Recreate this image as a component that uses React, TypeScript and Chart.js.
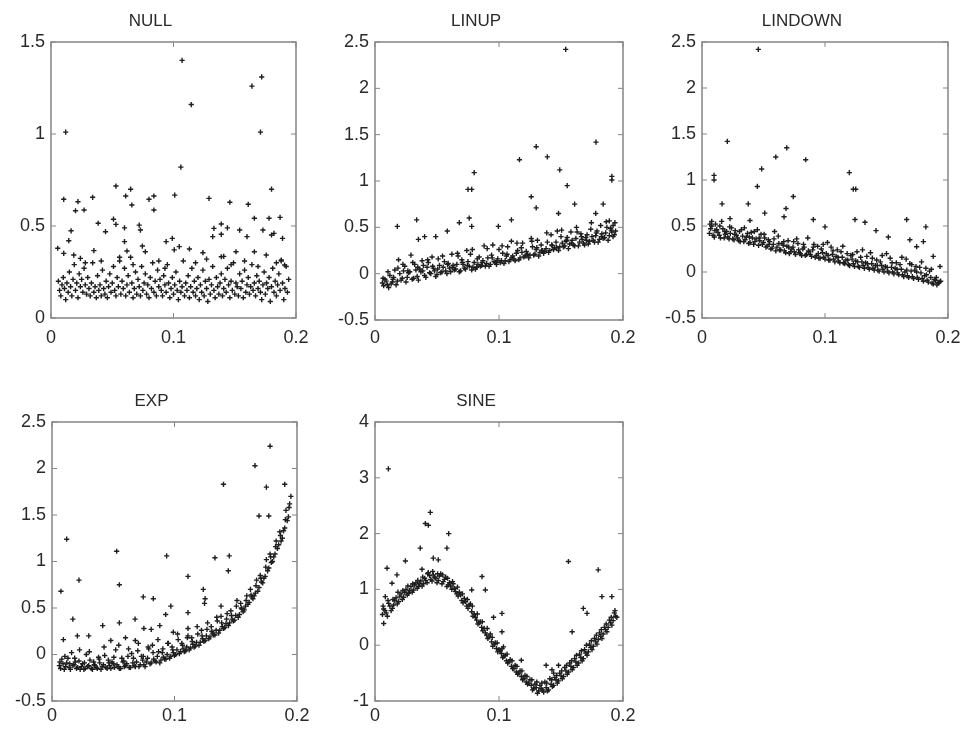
import React, { useEffect, useRef } from "react";
import { Chart, registerables } from "chart.js";

Chart.register(...registerables);

// ---------------- DATA ----------------
const PANEL_TITLES = ["NULL", "LINUP", "LINDOWN", "EXP", "SINE"];
const X_TICKS = [0, 0.1, 0.2];
const Y_TICKS_NULL = [0, 0.5, 1, 1.5];
const Y_TICKS_LIN = [-0.5, 0, 0.5, 1, 1.5, 2, 2.5];
const Y_TICKS_SINE = [-1, 0, 1, 2, 3, 4];

const NULL_POINTS: number[][] = [
  [0.012,1.01],[0.107,1.40],[0.1145,1.16],[0.106,0.82],[0.164,1.26],[0.172,1.31],[0.171,1.01],
  [0.0104,0.645],[0.022,0.632],[0.020,0.583],[0.027,0.587],[0.034,0.656],[0.053,0.717],[0.065,0.70],[0.061,0.663],[0.066,0.614],[0.080,0.645],[0.084,0.663],[0.084,0.587],[0.101,0.668],[0.129,0.65],[0.146,0.629],[0.161,0.618],[0.180,0.70],
  [0.0385,0.515],[0.051,0.537],[0.053,0.509],[0.060,0.49],[0.072,0.505],[0.073,0.478],[0.0445,0.469],[0.0164,0.474],[0.0145,0.42],[0.0055,0.379],[0.060,0.415],[0.062,0.364],[0.0746,0.391],[0.077,0.36],[0.094,0.415],[0.099,0.433],[0.1006,0.37],[0.1047,0.388],[0.113,0.375],[0.133,0.487],[0.139,0.511],[0.144,0.49],[0.132,0.442],[0.139,0.455],[0.154,0.478],[0.160,0.442],[0.166,0.542],[0.178,0.542],[0.187,0.547],[0.173,0.478],[0.180,0.451],[0.182,0.46],[0.189,0.433],[0.035,0.366],[0.0104,0.351],[0.0186,0.342],[0.024,0.324],[0.139,0.333],[0.141,0.335],[0.124,0.355],[0.151,0.36],[0.166,0.36],[0.1757,0.342],[0.188,0.315],[0.1907,0.288],
  [0.028,0.30],[0.041,0.31],[0.056,0.33],[0.067,0.29],[0.088,0.31],[0.093,0.27],[0.118,0.30],[0.127,0.32],[0.147,0.29],[0.158,0.31],[0.169,0.28],[0.184,0.30],
  [0.006,0.20],[0.007,0.15],[0.008,0.12],[0.009,0.18],[0.010,0.22],[0.011,0.16],[0.012,0.10],[0.013,0.19],[0.014,0.14],[0.015,0.25],[0.016,0.17],[0.017,0.12],[0.018,0.21],[0.019,0.29],[0.020,0.15],[0.021,0.19],[0.022,0.11],[0.023,0.24],[0.024,0.17],[0.025,0.21],[0.026,0.14],[0.027,0.27],[0.028,0.18],[0.029,0.13],[0.030,0.22],[0.031,0.16],[0.032,0.12],[0.033,0.19],[0.034,0.30],[0.035,0.14],[0.036,0.17],[0.037,0.11],[0.038,0.23],[0.039,0.15],[0.040,0.18],[0.041,0.12],[0.042,0.26],[0.043,0.16],[0.044,0.13],[0.045,0.20],[0.046,0.11],[0.047,0.17],[0.048,0.24],[0.049,0.14],[0.050,0.19],[0.051,0.28],[0.052,0.15],[0.053,0.12],[0.054,0.22],[0.055,0.17],[0.056,0.31],[0.057,0.13],[0.058,0.20],[0.059,0.16],[0.060,0.27],[0.061,0.12],[0.062,0.18],[0.063,0.23],[0.064,0.14],[0.065,0.33],[0.066,0.19],[0.067,0.11],[0.068,0.16],[0.069,0.25],[0.070,0.13],[0.071,0.21],[0.072,0.17],[0.073,0.12],[0.074,0.28],[0.075,0.15],[0.076,0.19],[0.077,0.24],[0.078,0.13],[0.079,0.18],[0.080,0.11],[0.081,0.22],[0.082,0.16],[0.083,0.30],[0.084,0.14],[0.085,0.20],[0.086,0.12],[0.087,0.26],[0.088,0.17],[0.089,0.21],[0.090,0.15],[0.091,0.12],[0.092,0.23],[0.093,0.18],[0.094,0.14],[0.095,0.29],[0.096,0.19],[0.097,0.11],[0.098,0.16],[0.099,0.22],[0.100,0.13],[0.101,0.18],[0.102,0.25],[0.103,0.15],[0.104,0.10],[0.105,0.20],[0.106,0.14],[0.107,0.17],[0.108,0.31],[0.109,0.12],[0.110,0.19],[0.111,0.15],[0.112,0.23],[0.113,0.11],[0.114,0.17],[0.115,0.27],[0.116,0.14],[0.117,0.20],[0.118,0.12],[0.119,0.16],[0.120,0.22],[0.121,0.10],[0.122,0.18],[0.123,0.14],[0.124,0.26],[0.125,0.12],[0.126,0.20],[0.127,0.16],[0.128,0.09],[0.129,0.21],[0.130,0.13],[0.131,0.18],[0.132,0.28],[0.133,0.15],[0.134,0.11],[0.135,0.22],[0.136,0.17],[0.137,0.13],[0.138,0.19],[0.139,0.24],[0.140,0.12],[0.141,0.16],[0.142,0.21],[0.143,0.14],[0.144,0.27],[0.145,0.18],[0.146,0.11],[0.147,0.20],[0.148,0.15],[0.149,0.30],[0.150,0.13],[0.151,0.19],[0.152,0.17],[0.153,0.12],[0.154,0.24],[0.155,0.16],[0.156,0.20],[0.157,0.11],[0.158,0.26],[0.159,0.14],[0.160,0.18],[0.161,0.22],[0.162,0.13],[0.163,0.17],[0.164,0.29],[0.165,0.15],[0.166,0.19],[0.167,0.12],[0.168,0.23],[0.169,0.16],[0.170,0.20],[0.171,0.14],[0.172,0.10],[0.173,0.18],[0.174,0.25],[0.175,0.13],[0.176,0.19],[0.177,0.16],[0.178,0.22],[0.179,0.09],[0.180,0.17],[0.181,0.27],[0.182,0.14],[0.183,0.20],[0.184,0.12],[0.185,0.18],[0.186,0.24],[0.187,0.15],[0.188,0.31],[0.189,0.19],[0.190,0.10],[0.191,0.16],[0.192,0.28],[0.193,0.14],[0.194,0.21],
];

const LINUP_POINTS: number[][] = [
  [0.1538,2.42],[0.130,1.37],[0.139,1.26],[0.1165,1.23],[0.1782,1.42],[0.080,1.09],[0.075,0.91],[0.078,0.91],[0.149,1.12],[0.155,0.95],[0.191,1.01],[0.191,1.05],[0.126,0.83],[0.130,0.71],[0.161,0.75],[0.184,0.75],
  [0.0336,0.58],[0.0180,0.51],[0.076,0.60],[0.078,0.51],[0.068,0.55],[0.0583,0.46],[0.049,0.40],[0.040,0.40],[0.035,0.37],[0.0995,0.51],[0.110,0.58],[0.148,0.65],[0.178,0.65],[0.189,0.57],[0.192,0.52],
  [0.006,-0.10],[0.008,-0.06],[0.010,-0.12],[0.012,-0.02],[0.014,-0.09],[0.016,0.04],[0.018,-0.08],[0.020,0.00],[0.022,-0.05],[0.024,0.08],[0.026,-0.04],[0.028,0.02],[0.030,-0.06],[0.032,0.10],[0.034,-0.03],[0.036,0.05],[0.038,0.14],[0.040,-0.02],[0.042,0.07],[0.044,0.01],[0.046,0.18],[0.048,0.03],[0.050,-0.01],[0.052,0.09],[0.054,0.02],[0.056,0.13],[0.058,0.00],[0.060,0.06],[0.062,0.21],[0.064,0.04],[0.066,0.10],[0.068,0.02],[0.070,0.15],[0.072,0.06],[0.074,0.25],[0.076,0.08],[0.078,0.04],[0.080,0.12],[0.082,0.07],[0.084,0.18],[0.086,0.09],[0.088,0.30],[0.090,0.11],[0.092,0.08],[0.094,0.20],[0.096,0.13],[0.098,0.10],[0.100,0.26],[0.102,0.14],[0.104,0.11],[0.106,0.19],[0.108,0.13],[0.110,0.35],[0.112,0.16],[0.114,0.22],[0.116,0.15],[0.118,0.28],[0.120,0.18],[0.122,0.24],[0.124,0.17],[0.126,0.38],[0.128,0.20],[0.130,0.26],[0.132,0.19],[0.134,0.31],[0.136,0.22],[0.138,0.27],[0.140,0.23],[0.142,0.42],[0.144,0.26],[0.146,0.34],[0.148,0.25],[0.150,0.40],[0.152,0.29],[0.154,0.35],[0.156,0.27],[0.158,0.45],[0.160,0.31],[0.162,0.38],[0.164,0.30],[0.166,0.43],[0.168,0.33],[0.170,0.39],[0.172,0.32],[0.174,0.48],[0.176,0.36],[0.178,0.41],[0.180,0.34],[0.182,0.52],[0.184,0.38],[0.186,0.44],[0.188,0.36],[0.190,0.49],[0.192,0.40],[0.194,0.46],
  [0.007,-0.13],[0.009,-0.08],[0.011,-0.15],[0.013,-0.11],[0.015,-0.04],[0.017,-0.12],[0.019,0.15],[0.021,-0.07],[0.023,0.03],[0.025,-0.09],[0.027,0.01],[0.029,0.20],[0.031,-0.05],[0.033,0.04],[0.035,-0.07],[0.037,0.02],[0.039,0.09],[0.041,-0.04],[0.043,0.12],[0.045,0.00],[0.047,0.06],[0.049,-0.03],[0.051,0.16],[0.053,0.01],[0.055,0.07],[0.057,0.03],[0.059,0.11],[0.061,0.02],[0.063,0.09],[0.065,0.05],[0.067,0.19],[0.069,0.03],[0.071,0.10],[0.073,0.05],[0.075,0.13],[0.077,0.21],[0.079,0.07],[0.081,0.05],[0.083,0.10],[0.085,0.08],[0.087,0.14],[0.089,0.08],[0.091,0.17],[0.093,0.10],[0.095,0.31],[0.097,0.12],[0.099,0.16],[0.101,0.12],[0.103,0.22],[0.105,0.14],[0.107,0.29],[0.109,0.15],[0.111,0.19],[0.113,0.14],[0.115,0.25],[0.117,0.17],[0.119,0.33],[0.121,0.19],[0.123,0.21],[0.125,0.20],[0.127,0.29],[0.129,0.21],[0.131,0.36],[0.133,0.23],[0.135,0.25],[0.137,0.24],[0.139,0.34],[0.141,0.25],[0.143,0.30],[0.145,0.28],[0.147,0.46],[0.149,0.29],[0.151,0.33],[0.153,0.30],[0.155,0.39],[0.157,0.32],[0.159,0.36],[0.161,0.30],[0.163,0.45],[0.165,0.34],[0.167,0.37],[0.169,0.31],[0.171,0.42],[0.173,0.35],[0.175,0.40],[0.177,0.34],[0.179,0.46],[0.181,0.37],[0.183,0.43],[0.185,0.39],[0.187,0.50],[0.189,0.41],[0.191,0.45],[0.193,0.42],
  [0.0065,-0.05],[0.0105,0.02],[0.0145,-0.06],[0.0185,0.06],[0.0225,0.10],[0.0265,0.03],[0.0305,0.12],[0.0345,0.07],[0.0385,0.03],[0.0425,0.15],[0.0465,0.08],[0.0505,0.05],[0.0545,0.19],[0.0585,0.10],[0.0625,0.07],[0.0665,0.22],[0.0705,0.12],[0.0745,0.09],[0.0785,0.26],[0.0825,0.16],[0.0865,0.12],[0.0905,0.27],[0.0945,0.17],[0.0985,0.14],[0.1025,0.30],[0.1065,0.21],[0.1105,0.17],[0.1145,0.33],[0.1185,0.23],[0.1225,0.20],[0.1265,0.35],[0.1305,0.28],[0.1345,0.25],[0.1385,0.44],[0.1425,0.31],[0.1465,0.28],[0.1505,0.47],[0.1545,0.36],[0.1585,0.33],[0.1625,0.50],[0.1665,0.40],[0.1705,0.36],[0.1745,0.55],[0.1785,0.44],[0.1825,0.40],[0.1865,0.56],[0.1905,0.47],[0.1935,0.55],
];

const LINDOWN_POINTS: number[][] = [
  [0.0458,2.42],[0.0206,1.42],[0.0689,1.35],[0.060,1.25],[0.0843,1.22],[0.0485,1.12],[0.045,0.93],[0.0098,1.00],[0.0098,1.05],[0.1198,1.08],[0.123,0.90],[0.125,0.90],[0.0742,0.82],[0.0163,0.74],[0.0376,0.74],[0.0683,0.69],[0.0667,0.60],
  [0.0905,0.57],[0.1244,0.57],[0.1325,0.54],[0.1664,0.57],[0.182,0.49],[0.1415,0.45],[0.1515,0.38],[0.0228,0.58],[0.039,0.56],[0.051,0.64],[0.0079,0.55],[0.100,0.49],[0.169,0.35],[0.1745,0.275],[0.188,0.17],[0.180,0.33],
  [0.006,0.42],[0.008,0.50],[0.010,0.38],[0.012,0.46],[0.014,0.40],[0.016,0.55],[0.018,0.37],[0.020,0.44],[0.022,0.36],[0.024,0.48],[0.026,0.35],[0.028,0.40],[0.030,0.34],[0.032,0.46],[0.034,0.33],[0.036,0.38],[0.038,0.31],[0.040,0.43],[0.042,0.30],[0.044,0.36],[0.046,0.29],[0.048,0.41],[0.050,0.32],[0.052,0.27],[0.054,0.35],[0.056,0.25],[0.058,0.30],[0.060,0.23],[0.062,0.39],[0.064,0.24],[0.066,0.29],[0.068,0.21],[0.070,0.34],[0.072,0.22],[0.074,0.27],[0.076,0.19],[0.078,0.31],[0.080,0.20],[0.082,0.25],[0.084,0.18],[0.086,0.37],[0.088,0.19],[0.090,0.24],[0.092,0.16],[0.094,0.28],[0.096,0.15],[0.098,0.21],[0.100,0.14],[0.102,0.32],[0.104,0.13],[0.106,0.19],[0.108,0.11],[0.110,0.24],[0.112,0.10],[0.114,0.16],[0.116,0.09],[0.118,0.20],[0.120,0.07],[0.122,0.14],[0.124,0.06],[0.126,0.22],[0.128,0.05],[0.130,0.11],[0.132,0.04],[0.134,0.17],[0.136,0.03],[0.138,0.09],[0.140,0.02],[0.142,0.13],[0.144,0.01],[0.146,0.07],[0.148,0.00],[0.150,0.20],[0.152,-0.01],[0.154,0.05],[0.156,-0.02],[0.158,0.10],[0.160,-0.03],[0.162,0.03],[0.164,-0.05],[0.166,0.14],[0.168,-0.06],[0.170,0.01],[0.172,-0.07],[0.174,0.06],[0.176,-0.08],[0.178,-0.01],[0.180,-0.10],[0.182,0.04],[0.184,-0.11],[0.186,-0.06],[0.188,-0.13],[0.190,-0.09],[0.192,-0.12],[0.194,-0.10],
  [0.007,0.47],[0.009,0.40],[0.011,0.52],[0.013,0.43],[0.015,0.37],[0.017,0.47],[0.019,0.41],[0.021,0.38],[0.023,0.42],[0.025,0.36],[0.027,0.45],[0.029,0.37],[0.031,0.33],[0.033,0.39],[0.035,0.35],[0.037,0.42],[0.039,0.32],[0.041,0.37],[0.043,0.33],[0.045,0.46],[0.047,0.34],[0.049,0.30],[0.051,0.37],[0.053,0.28],[0.055,0.33],[0.057,0.26],[0.059,0.44],[0.061,0.27],[0.063,0.24],[0.065,0.31],[0.067,0.23],[0.069,0.28],[0.071,0.20],[0.073,0.25],[0.075,0.22],[0.077,0.36],[0.079,0.21],[0.081,0.18],[0.083,0.27],[0.085,0.19],[0.087,0.22],[0.089,0.17],[0.091,0.30],[0.093,0.18],[0.095,0.15],[0.097,0.25],[0.099,0.16],[0.101,0.20],[0.103,0.13],[0.105,0.27],[0.107,0.14],[0.109,0.17],[0.111,0.12],[0.113,0.22],[0.115,0.10],[0.117,0.13],[0.119,0.08],[0.121,0.18],[0.123,0.09],[0.125,0.12],[0.127,0.06],[0.129,0.16],[0.131,0.07],[0.133,0.10],[0.135,0.05],[0.137,0.21],[0.139,0.04],[0.141,0.07],[0.143,0.02],[0.145,0.11],[0.147,0.03],[0.149,0.06],[0.151,0.01],[0.153,0.15],[0.155,0.00],[0.157,0.04],[0.159,-0.01],[0.161,0.08],[0.163,-0.03],[0.165,0.00],[0.167,-0.04],[0.169,0.09],[0.171,-0.05],[0.173,0.02],[0.175,-0.06],[0.177,0.05],[0.179,-0.07],[0.181,-0.04],[0.183,-0.09],[0.185,0.01],[0.187,-0.12],[0.189,-0.08],[0.191,-0.14],[0.193,-0.11],
  [0.0065,0.52],[0.0105,0.45],[0.0145,0.50],[0.0185,0.44],[0.0225,0.49],[0.0265,0.41],[0.0305,0.44],[0.0345,0.48],[0.0385,0.38],[0.0425,0.44],[0.0465,0.37],[0.0505,0.41],[0.0545,0.30],[0.0585,0.36],[0.0625,0.31],[0.0665,0.33],[0.0705,0.27],[0.0745,0.33],[0.0785,0.24],[0.0825,0.30],[0.0865,0.23],[0.0905,0.27],[0.0945,0.20],[0.0985,0.30],[0.1025,0.18],[0.1065,0.23],[0.1105,0.16],[0.1145,0.28],[0.1185,0.13],[0.1225,0.19],[0.1265,0.11],[0.1305,0.24],[0.1345,0.09],[0.1385,0.15],[0.1425,0.07],[0.1465,0.18],[0.1505,0.05],[0.1545,0.10],[0.1585,0.03],[0.1625,0.16],[0.1665,0.02],[0.1705,0.08],[0.1745,0.00],[0.1785,0.11],[0.1825,-0.03],[0.1865,0.03],[0.1905,-0.06],[0.1935,0.06],
];

const EXP_POINTS: number[][] = [
  [0.178,2.24],[0.1657,2.03],[0.140,1.83],[0.175,1.80],[0.169,1.49],[0.177,1.49],[0.190,1.83],[0.0120,1.24],[0.0528,1.11],[0.0936,1.06],[0.133,1.04],[0.1447,1.06],[0.1439,0.90],[0.111,0.84],[0.022,0.80],[0.055,0.75],[0.0073,0.68],[0.1235,0.70],
  [0.0745,0.62],[0.0827,0.60],[0.097,0.52],[0.0928,0.43],[0.111,0.45],[0.125,0.60],[0.1245,0.55],[0.138,0.52],[0.017,0.38],[0.0414,0.31],[0.055,0.34],[0.0678,0.38],[0.075,0.28],[0.081,0.27],[0.088,0.31],[0.099,0.24],[0.111,0.28],[0.0207,0.20],[0.030,0.20],[0.0093,0.16],[0.048,0.15],[0.060,0.18],[0.068,0.15],
  [0.006,-0.12],[0.008,-0.05],[0.010,-0.16],[0.012,-0.09],[0.014,-0.14],[0.016,0.02],[0.018,-0.11],[0.020,-0.15],[0.022,-0.07],[0.024,-0.13],[0.026,-0.16],[0.028,0.00],[0.030,-0.12],[0.032,-0.15],[0.034,-0.08],[0.036,-0.14],[0.038,-0.03],[0.040,-0.16],[0.042,-0.11],[0.044,-0.14],[0.046,-0.06],[0.048,-0.15],[0.050,-0.10],[0.052,0.05],[0.054,-0.13],[0.056,-0.15],[0.058,-0.08],[0.060,-0.12],[0.062,-0.02],[0.064,-0.14],[0.066,-0.09],[0.068,-0.13],[0.070,0.04],[0.072,-0.11],[0.074,-0.06],[0.076,-0.13],[0.078,-0.04],[0.080,-0.10],[0.082,0.10],[0.084,-0.07],[0.086,-0.02],[0.088,-0.09],[0.090,0.02],[0.092,-0.05],[0.094,0.00],[0.096,-0.04],[0.098,0.08],[0.100,-0.01],[0.102,0.05],[0.104,0.01],[0.106,0.12],[0.108,0.03],[0.110,0.08],[0.112,0.05],[0.114,0.18],[0.116,0.08],[0.118,0.13],[0.120,0.10],[0.122,0.26],[0.124,0.14],[0.126,0.20],[0.128,0.17],[0.130,0.30],[0.132,0.21],[0.134,0.26],[0.136,0.23],[0.138,0.41],[0.140,0.28],[0.142,0.33],[0.144,0.31],[0.146,0.47],[0.148,0.36],[0.150,0.42],[0.152,0.40],[0.154,0.55],[0.156,0.46],[0.158,0.52],[0.160,0.54],[0.162,0.70],[0.164,0.60],[0.166,0.66],[0.168,0.68],[0.170,0.85],[0.172,0.77],[0.174,0.84],[0.176,0.90],[0.178,1.08],[0.180,1.00],[0.182,1.08],[0.184,1.14],[0.186,1.32],[0.188,1.25],[0.190,1.36],[0.192,1.44],[0.194,1.62],
  [0.007,-0.15],[0.009,-0.10],[0.011,-0.13],[0.013,-0.04],[0.015,-0.16],[0.017,-0.12],[0.019,-0.08],[0.021,-0.14],[0.023,-0.16],[0.025,-0.10],[0.027,-0.15],[0.029,-0.13],[0.031,-0.06],[0.033,-0.16],[0.035,-0.12],[0.037,-0.15],[0.039,-0.09],[0.041,-0.13],[0.043,-0.01],[0.045,-0.15],[0.047,-0.12],[0.049,-0.08],[0.051,-0.14],[0.053,-0.11],[0.055,-0.15],[0.057,-0.04],[0.059,-0.13],[0.061,-0.10],[0.063,-0.14],[0.065,0.01],[0.067,-0.12],[0.069,-0.08],[0.071,-0.13],[0.073,-0.02],[0.075,-0.11],[0.077,-0.08],[0.079,0.06],[0.081,-0.09],[0.083,-0.05],[0.085,-0.08],[0.087,0.03],[0.089,-0.06],[0.091,-0.03],[0.093,-0.05],[0.095,0.12],[0.097,-0.02],[0.099,0.02],[0.101,0.00],[0.103,0.16],[0.105,0.03],[0.107,0.06],[0.109,0.04],[0.111,0.20],[0.113,0.07],[0.115,0.11],[0.117,0.09],[0.119,0.22],[0.121,0.13],[0.123,0.17],[0.125,0.15],[0.127,0.34],[0.129,0.19],[0.131,0.23],[0.133,0.21],[0.135,0.36],[0.137,0.26],[0.139,0.30],[0.141,0.29],[0.143,0.44],[0.145,0.34],[0.147,0.38],[0.149,0.37],[0.151,0.58],[0.153,0.43],[0.155,0.49],[0.157,0.48],[0.159,0.63],[0.161,0.56],[0.163,0.62],[0.165,0.63],[0.167,0.80],[0.169,0.72],[0.171,0.78],[0.173,0.82],[0.175,1.02],[0.177,0.93],[0.179,0.99],[0.181,1.05],[0.183,1.22],[0.185,1.18],[0.187,1.22],[0.189,1.33],[0.191,1.55],[0.193,1.48],[0.195,1.70],
  [0.0065,-0.08],[0.0105,-0.02],[0.0145,-0.10],[0.0185,-0.04],[0.0225,0.05],[0.0265,-0.09],[0.0305,0.03],[0.0345,-0.11],[0.0385,-0.05],[0.0425,0.08],[0.0465,-0.09],[0.0505,-0.03],[0.0545,0.10],[0.0585,-0.07],[0.0625,0.06],[0.0665,-0.04],[0.0705,0.12],[0.0745,-0.02],[0.0785,0.08],[0.0825,0.02],[0.0865,0.16],[0.0905,0.06],[0.0945,0.12],[0.0985,0.05],[0.1025,0.22],[0.1065,0.10],[0.1105,0.18],[0.1145,0.14],[0.1185,0.30],[0.1225,0.20],[0.1265,0.27],[0.1305,0.25],[0.1345,0.40],[0.1385,0.34],[0.1425,0.38],[0.1465,0.42],[0.1505,0.52],[0.1545,0.50],[0.1585,0.58],[0.1625,0.64],[0.1665,0.74],[0.1705,0.82],[0.1745,0.94],[0.1785,1.05],[0.1825,1.16],[0.1865,1.28],[0.1905,1.45],[0.1935,1.58],
];

const SINE_POINTS: number[][] = [
  [0.0108,3.16],[0.0446,2.38],[0.0406,2.18],[0.043,2.15],[0.0594,2.0],[0.058,1.74],[0.0365,1.74],[0.0245,1.51],[0.156,1.50],[0.180,1.35],[0.047,1.56],[0.051,1.53],[0.0097,1.38],[0.0177,1.26],[0.0137,1.11],[0.0379,1.36],[0.0863,1.23],[0.089,0.99],[0.078,0.99],
  [0.183,0.87],[0.191,0.87],[0.171,0.57],[0.168,0.66],[0.1024,0.57],[0.0956,0.50],[0.1024,0.24],[0.1036,-0.03],[0.118,-0.27],[0.159,0.24],[0.1427,-0.44],[0.148,-0.36],[0.0083,0.87],[0.007,0.39],[0.138,-0.36],[0.144,-0.50],
  [0.006,0.55],[0.008,0.62],[0.010,0.52],[0.012,0.70],[0.014,0.66],[0.016,0.80],[0.018,0.74],[0.020,0.88],[0.022,0.82],[0.024,0.95],[0.026,0.90],[0.028,0.98],[0.030,0.95],[0.032,1.08],[0.034,1.02],[0.036,1.10],[0.038,1.06],[0.040,1.20],[0.042,1.12],[0.044,1.25],[0.046,1.15],[0.048,1.22],[0.050,1.12],[0.052,1.24],[0.054,1.10],[0.056,1.18],[0.058,1.05],[0.060,1.12],[0.062,1.00],[0.064,1.02],[0.066,0.92],[0.068,0.95],[0.070,0.80],[0.072,0.84],[0.074,0.70],[0.076,0.72],[0.078,0.60],[0.080,0.56],[0.082,0.45],[0.084,0.40],[0.086,0.32],[0.088,0.30],[0.090,0.18],[0.092,0.15],[0.094,0.06],[0.096,0.02],[0.098,-0.06],[0.100,-0.08],[0.102,-0.15],[0.104,-0.20],[0.106,-0.28],[0.108,-0.30],[0.110,-0.38],[0.112,-0.42],[0.114,-0.48],[0.116,-0.50],[0.118,-0.56],[0.120,-0.60],[0.122,-0.66],[0.124,-0.68],[0.126,-0.72],[0.128,-0.78],[0.130,-0.76],[0.132,-0.82],[0.134,-0.78],[0.136,-0.84],[0.138,-0.76],[0.140,-0.80],[0.142,-0.70],[0.144,-0.72],[0.146,-0.62],[0.148,-0.64],[0.150,-0.55],[0.152,-0.56],[0.154,-0.46],[0.156,-0.48],[0.158,-0.38],[0.160,-0.40],[0.162,-0.30],[0.164,-0.32],[0.166,-0.22],[0.168,-0.24],[0.170,-0.14],[0.172,-0.12],[0.174,-0.04],[0.176,-0.02],[0.178,0.06],[0.180,0.10],[0.182,0.16],[0.184,0.20],[0.186,0.28],[0.188,0.32],[0.190,0.40],[0.192,0.44],[0.194,0.52],
  [0.007,0.65],[0.009,0.58],[0.011,0.75],[0.013,0.62],[0.015,0.72],[0.017,0.85],[0.019,0.78],[0.021,0.92],[0.023,0.86],[0.025,1.00],[0.027,0.93],[0.029,1.05],[0.031,0.99],[0.033,1.12],[0.035,1.05],[0.037,1.15],[0.039,1.10],[0.041,1.16],[0.043,1.30],[0.045,1.18],[0.047,1.26],[0.049,1.20],[0.051,1.16],[0.053,1.28],[0.055,1.14],[0.057,1.22],[0.059,1.08],[0.061,1.06],[0.063,1.10],[0.065,0.96],[0.067,0.88],[0.069,0.90],[0.071,0.76],[0.073,0.78],[0.075,0.66],[0.077,0.74],[0.079,0.52],[0.081,0.50],[0.083,0.38],[0.085,0.42],[0.087,0.26],[0.089,0.22],[0.091,0.12],[0.093,0.20],[0.095,-0.02],[0.097,0.04],[0.099,-0.12],[0.101,-0.10],[0.103,-0.22],[0.105,-0.18],[0.107,-0.32],[0.109,-0.26],[0.111,-0.42],[0.113,-0.36],[0.115,-0.52],[0.117,-0.46],[0.119,-0.62],[0.121,-0.54],[0.123,-0.70],[0.125,-0.62],[0.127,-0.80],[0.129,-0.70],[0.131,-0.86],[0.133,-0.72],[0.135,-0.80],[0.137,-0.66],[0.139,-0.82],[0.141,-0.60],[0.143,-0.74],[0.145,-0.58],[0.147,-0.68],[0.149,-0.50],[0.151,-0.60],[0.153,-0.40],[0.155,-0.52],[0.157,-0.32],[0.159,-0.44],[0.161,-0.24],[0.163,-0.36],[0.165,-0.16],[0.167,-0.28],[0.169,-0.08],[0.171,-0.18],[0.173,0.02],[0.175,-0.08],[0.177,0.12],[0.179,0.02],[0.181,0.22],[0.183,0.12],[0.185,0.32],[0.187,0.24],[0.189,0.45],[0.191,0.36],[0.193,0.58],[0.195,0.50],
  [0.0065,0.70],[0.0105,0.80],[0.0145,0.82],[0.0185,0.95],[0.0225,0.98],[0.0265,1.06],[0.0305,1.10],[0.0345,1.16],[0.0385,1.22],[0.0425,1.28],[0.0465,1.32],[0.0505,1.28],[0.0545,1.26],[0.0585,1.20],[0.0625,1.14],[0.0665,1.04],[0.0705,0.92],[0.0745,0.82],[0.0785,0.70],[0.0825,0.56],[0.0865,0.42],[0.0905,0.30],[0.0945,0.14],[0.0985,0.04],[0.1025,-0.06],[0.1065,-0.16],[0.1105,-0.28],[0.1145,-0.38],[0.1185,-0.46],[0.1225,-0.56],[0.1265,-0.62],[0.1305,-0.66],[0.1345,-0.68],[0.1385,-0.68],[0.1425,-0.62],[0.1465,-0.54],[0.1505,-0.46],[0.1545,-0.36],[0.1585,-0.28],[0.1625,-0.18],[0.1665,-0.10],[0.1705,0.00],[0.1745,0.08],[0.1785,0.18],[0.1825,0.28],[0.1865,0.38],[0.1905,0.50],[0.1935,0.62],
];

const PANEL_POINTS = [NULL_POINTS, LINUP_POINTS, LINDOWN_POINTS, EXP_POINTS, SINE_POINTS];
const PANEL_Y_TICKS = [Y_TICKS_NULL, Y_TICKS_LIN, Y_TICKS_LIN, Y_TICKS_LIN, Y_TICKS_SINE];

// ---------------- LAYOUT / STYLE ----------------
const FONT = "'Liberation Sans', Arial, Helvetica, sans-serif";
const BOXES = [
  { l: 51, r: 296, t: 42, b: 318, xPad: 9 },
  { l: 375, r: 623, t: 42, b: 320, xPad: 7 },
  { l: 702, r: 948, t: 42, b: 318, xPad: 9 },
  { l: 52, r: 297, t: 422, b: 701, xPad: 4 },
  { l: 375, r: 623, t: 422, b: 701, xPad: 4 },
];
const ML = 46, MR = 46, MT = 40, MB = 30;
const TITLE_SIZE = 17;

const fmt = (v: number) => String(Math.round(v * 1000) / 1000);

const frame = {
  id: "matlabFrame",
  afterDraw(chart: any) {
    const { ctx, chartArea } = chart;
    const { left, right, top, bottom } = chartArea;
    const xs = chart.scales.x, ys = chart.scales.y;
    ctx.save();
    ctx.strokeStyle = "#858585";
    ctx.lineWidth = 1.5;
    ctx.strokeRect(left, top, right - left, bottom - top);
    ctx.lineWidth = 1;
    ctx.beginPath();
    const tl = 5;
    xs.ticks.forEach((t: any) => {
      const px = xs.getPixelForValue(t.value);
      ctx.moveTo(px, bottom); ctx.lineTo(px, bottom - tl);
      ctx.moveTo(px, top); ctx.lineTo(px, top + tl);
    });
    ys.ticks.forEach((t: any) => {
      const py = ys.getPixelForValue(t.value);
      ctx.moveTo(left, py); ctx.lineTo(left + tl, py);
      ctx.moveTo(right, py); ctx.lineTo(right - tl, py);
    });
    ctx.stroke();
    ctx.restore();
  },
};

function Panel({ idx }: { idx: number }) {
  const ref = useRef<HTMLCanvasElement>(null);
  const box = BOXES[idx];
  const w = box.r - box.l + ML + MR;
  const h = box.b - box.t + MT + MB;
  useEffect(() => {
    if (!ref.current) return;
    const yt = PANEL_Y_TICKS[idx];
    const lh = TITLE_SIZE * 1.2;
    const padBottom = 21 - lh / 2;
    const padTop = MT - lh - padBottom;
    const chart = new Chart(ref.current, {
      type: "scatter",
      data: {
        datasets: [
          {
            data: PANEL_POINTS[idx].map(([x, y]) => ({ x, y })),
            pointStyle: "cross",
            pointRadius: 2.6,
            pointBorderWidth: 1.4,
            borderColor: "#1e1e1e",
            backgroundColor: "#1e1e1e",
          } as any,
        ],
      },
      options: {
        animation: false,
        responsive: false,
        maintainAspectRatio: false,
        devicePixelRatio: 1,
        events: [],
        layout: { padding: { left: 0, right: MR, top: 0, bottom: 0 } },
        plugins: {
          legend: { display: false },
          tooltip: { enabled: false },
          title: {
            display: true,
            text: PANEL_TITLES[idx],
            color: "#2a2a2a",
            font: { family: FONT, size: TITLE_SIZE, weight: "normal" },
            padding: { top: padTop, bottom: padBottom },
          },
        },
        scales: {
          x: {
            type: "linear",
            min: X_TICKS[0],
            max: X_TICKS[X_TICKS.length - 1],
            afterBuildTicks: (s: any) => { s.ticks = X_TICKS.map((v) => ({ value: v })); },
            ticks: { font: { family: FONT, size: 18 }, color: "#2a2a2a", padding: box.xPad, maxRotation: 0, autoSkip: false, callback: (v: any) => fmt(Number(v)) },
            grid: { display: false, drawTicks: false },
            border: { display: false },
            afterFit: (s: any) => { s.height = MB; },
          },
          y: {
            type: "linear",
            min: yt[0],
            max: yt[yt.length - 1],
            afterBuildTicks: (s: any) => { s.ticks = yt.map((v) => ({ value: v })); },
            ticks: { font: { family: FONT, size: 18 }, color: "#2a2a2a", padding: 6, autoSkip: false, callback: (v: any) => fmt(Number(v)) },
            grid: { display: false, drawTicks: false },
            border: { display: false },
            afterFit: (s: any) => { s.width = ML; },
          },
        },
      } as any,
      plugins: [frame],
    });
    return () => chart.destroy();
  }, [idx]);
  return (
    <canvas
      ref={ref}
      width={w}
      height={h}
      style={{ position: "absolute", left: box.l - ML, top: box.t - MT, width: w, height: h }}
    />
  );
}

export default function App() {
  return (
    <div style={{ position: "absolute", left: 0, top: 0, width: 962, height: 729, background: "#fff", overflow: "hidden" }}>
      {PANEL_TITLES.map((_, i) => (
        <Panel key={i} idx={i} />
      ))}
    </div>
  );
}
